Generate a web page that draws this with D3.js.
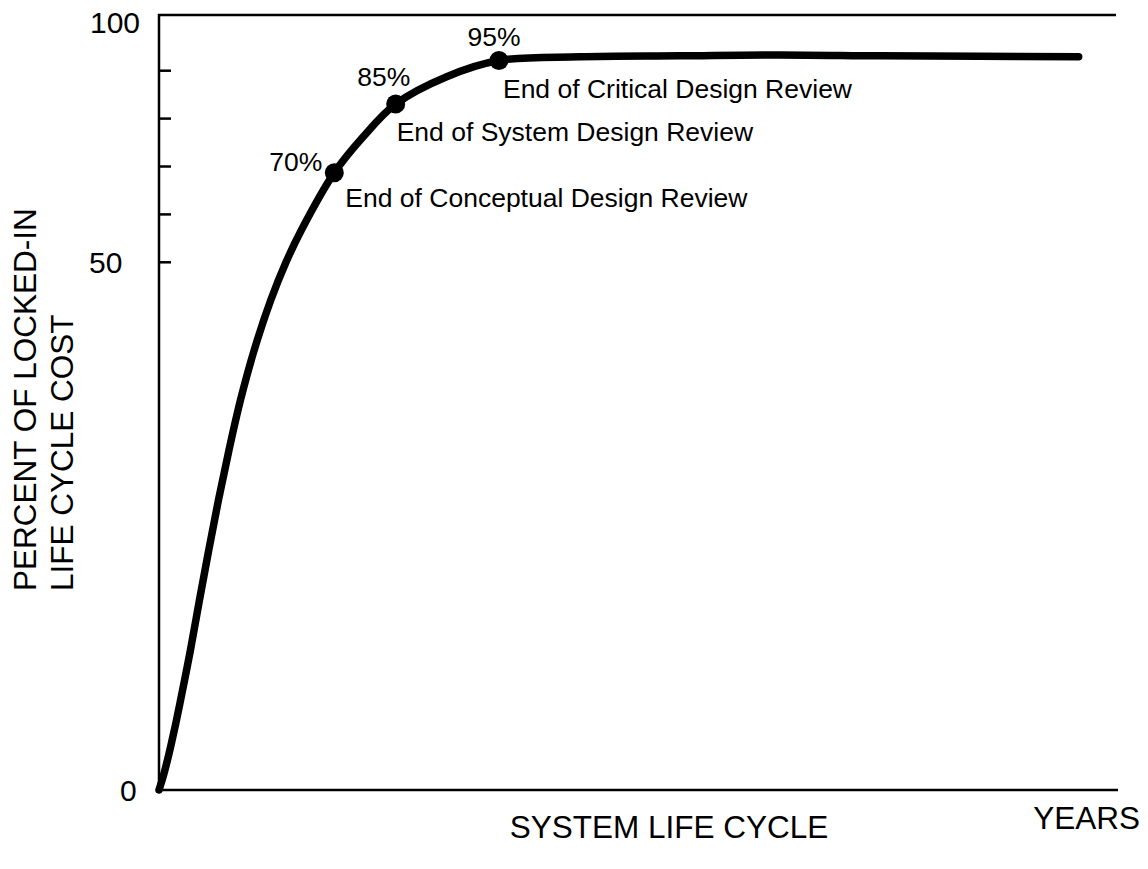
<!DOCTYPE html>
<html lang="en">
  <head>
    <meta charset="UTF-8" />
    <title>Locked-in Life Cycle Cost</title>
    <script src="https://d3js.org/d3.v7.min.js"></script>
    <style>
      body {
        margin: 0;
        background: #fff;
        font-family: 'Liberation Sans', Arial, sans-serif;
      }
      .frame {
        stroke: #000;
        stroke-width: 2.5px;
        fill: none;
      }
      .curve {
        fill: none;
        stroke: #000;
        stroke-width: 7.5px;
        stroke-linecap: round;
      }
      .tick-text {
        font-size: 30px;
        fill: #000;
      }
      .axis-text {
        font-size: 31.5px;
        fill: #000;
      }
      .note {
        font-size: 26.5px;
        fill: #000;
      }
    </style>
  </head>
  <body>
    <div id="chart"></div>
    <script>
      // curve: x in % of life cycle, y in % locked-in cost
      const curveX = [0, 0.42, 0.83, 1.25, 1.67, 2.19, 3.28, 4.22, 5.19, 6.2,
        7.3, 8.5, 9.93, 11.66, 13.24, 14.85, 18.28, 21.27, 24.68, 30.0, 35.45,
        43.9, 54.3, 64.8, 75.2, 85.5, 95.9];
      const curveY = [0, 1.23, 2.65, 4.26, 5.97, 8.24, 13.27, 18.0, 22.74, 27.48,
        32.22, 36.96, 41.69, 46.43, 50.0, 56.74, 68.71, 76.16, 83.05, 88.75, 92.12,
        92.9, 93.1, 93.3, 93.1, 93.0, 92.9];

      // milestones
      const milestoneNames = [
        'End of Conceptual Design Review',
        'End of System Design Review',
        'End of Critical Design Review',
      ];
      const milestonePct = ['70%', '85%', '95%'];
      const milestoneX = [18.28, 24.68, 35.45];
      const milestoneY = [68.71, 83.05, 92.12];

      const tickLabels = [0, 50, 100];
      const minorTicks = [50, 60, 70, 80, 90];

      const W = 1148, H = 869;
      const svg = d3.select('#chart').append('svg')
        .attr('width', W).attr('height', H);

      const x = d3.scaleLinear().domain([0, 100]).range([159, 1118]);
      // the original axis is stretched below 50
      const y = d3.scaleLinear().domain([0, 50, 100]).range([790, 262.3, 22.8]);

      const frameTop = 15;

      // frame: left axis, top and bottom lines
      svg.append('path').attr('class', 'frame')
        .attr('d', `M${x(100) - 2},${frameTop}H${x(0)}V${y(0)}H${x(100)}`);

      // minor ticks pointing inside
      svg.append('g').selectAll('line').data(minorTicks).join('line')
        .attr('x1', x(0)).attr('x2', x(0) + 12)
        .attr('y1', d => y(d)).attr('y2', d => y(d))
        .attr('stroke', '#000').attr('stroke-width', 2.5);

      const tickX = { 0: 120, 50: 89, 100: 90 };
      svg.append('g').selectAll('text').data(tickLabels).join('text')
        .attr('class', 'tick-text')
        .attr('x', d => tickX[d])
        .attr('y', d => y(d) + 10.5)
        .text(d => d);

      svg.append('text').attr('class', 'axis-text')
        .attr('x', 669).attr('y', 838)
        .attr('text-anchor', 'middle')
        .text('SYSTEM LIFE CYCLE');

      svg.append('text').attr('class', 'axis-text')
        .attr('x', 1140).attr('y', 829)
        .attr('text-anchor', 'end')
        .text('YEARS');

      const yTitle = svg.append('text').attr('class', 'axis-text')
        .attr('transform', 'translate(0,591) rotate(-90)');
      yTitle.append('tspan').attr('x', 0).attr('y', 36).text('PERCENT OF LOCKED-IN');
      yTitle.append('tspan').attr('x', 0).attr('y', 73).text('LIFE CYCLE COST');

      const pts = curveX.map((d, i) => [x(d), y(curveY[i])]);
      svg.append('path').attr('class', 'curve')
        .attr('d', d3.line().curve(d3.curveCatmullRom.alpha(0.5))(pts));

      const ms = milestoneNames.map((name, i) => ({
        name, pct: milestonePct[i], cx: x(milestoneX[i]), cy: y(milestoneY[i]),
      }));

      svg.append('g').selectAll('circle').data(ms).join('circle')
        .attr('cx', d => d.cx).attr('cy', d => d.cy).attr('r', 9.5)
        .attr('fill', '#000');

      // label offsets per milestone (pct label, then name)
      const pctOff = [[-12, -2, 'end'], [-12, -18, 'middle'], [-5, -15, 'middle']];
      const nameOff = [[11, 34], [1, 37], [4, 37]];

      svg.append('g').selectAll('text').data(ms).join('text')
        .attr('class', 'note')
        .attr('x', (d, i) => d.cx + pctOff[i][0])
        .attr('y', (d, i) => d.cy + pctOff[i][1])
        .attr('text-anchor', (d, i) => pctOff[i][2])
        .text(d => d.pct);

      svg.append('g').selectAll('text').data(ms).join('text')
        .attr('class', 'note')
        .attr('x', (d, i) => d.cx + nameOff[i][0])
        .attr('y', (d, i) => d.cy + nameOff[i][1])
        .text(d => d.name);
    </script>
  </body>
</html>
